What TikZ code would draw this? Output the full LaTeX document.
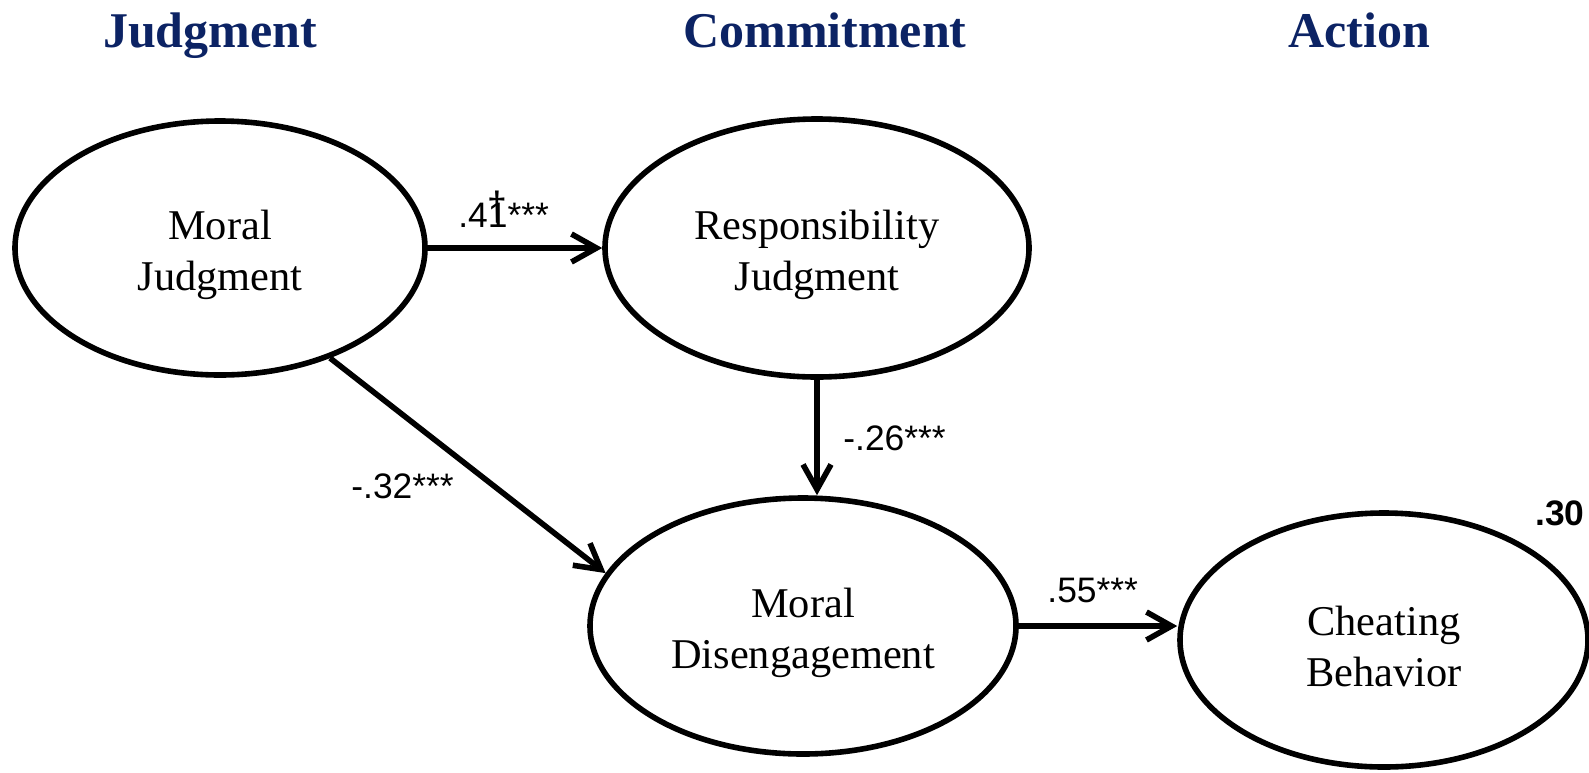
\documentclass[tikz,border=0pt]{standalone}
\usepackage{fontspec}
\setmainfont{Liberation Serif}
\newfontfamily\labfont{Liberation Sans}
\usetikzlibrary{shapes.geometric,arrows.meta}
\definecolor{navy}{RGB}{12,35,100}
\newcommand{\upstrut}{\rule{0pt}{21.5pt}}
\tikzset{
  latent/.style={ellipse, draw, line width=2.8pt, inner sep=0pt,
    align=center, font=\fontsize{21.2pt}{25.5pt}\selectfont},
  arr/.style={line width=2.8pt, -{Straight Barb[length=12.5pt,width=14pt]}},
  coef/.style={anchor=base west, inner sep=0pt, font=\labfont\fontsize{17.7pt}{20pt}\selectfont},
  ttl/.style={anchor=base, inner sep=0pt, text=navy, font=\bfseries\fontsize{25pt}{28pt}\selectfont}
}
\begin{document}
\begin{tikzpicture}[x=0.5pt, y=-0.5pt]
\useasboundingbox (0,0) rectangle (1589,772);
% titles
\node[ttl] (t1) at (210,47) {Judgment};
\node[ttl] (t2) at (825,47) {Commitment};
\node[ttl] (t3) at (1359,47) {Action};
% latent variables
\node[latent, minimum width=205pt, minimum height=127pt] (mj) at (220,248) {\upstrut Moral\\Judgment};
\node[latent, minimum width=212pt, minimum height=129pt] (rj) at (817,248) {\upstrut Responsibility\\Judgment};
\node[latent, minimum width=213pt, minimum height=128pt] (md) at (803,626) {\upstrut Moral\\Disengagement};
\node[latent, minimum width=204pt, minimum height=127pt] (cb) at (1384,640) {\upstrut Cheating\\Behavior};
% paths
\draw[arr] (mj.east) -- (rj.west);
\draw[arr] (rj.south) -- (rj.south |- md.north);
\draw[arr] (mj.-45) -- (md.165);
\draw[arr] (md.east) -- (md.east -| cb.west);
% coefficients
\node[coef] (c1) at (458,227) {.4\rlap{\raisebox{3.5pt}{\scalebox{1}[1.15]{†}}}1***};
\node[coef] (c2) at (843,450) {-.26***};
\node[coef] (c3) at (351,498) {-.32***};
\node[coef] (c4) at (1047,602) {.55***};
\node[coef, font=\labfont\bfseries\fontsize{17.7pt}{20pt}\selectfont] (c5) at (1535,525) {.30};
\end{tikzpicture}
\end{document}
